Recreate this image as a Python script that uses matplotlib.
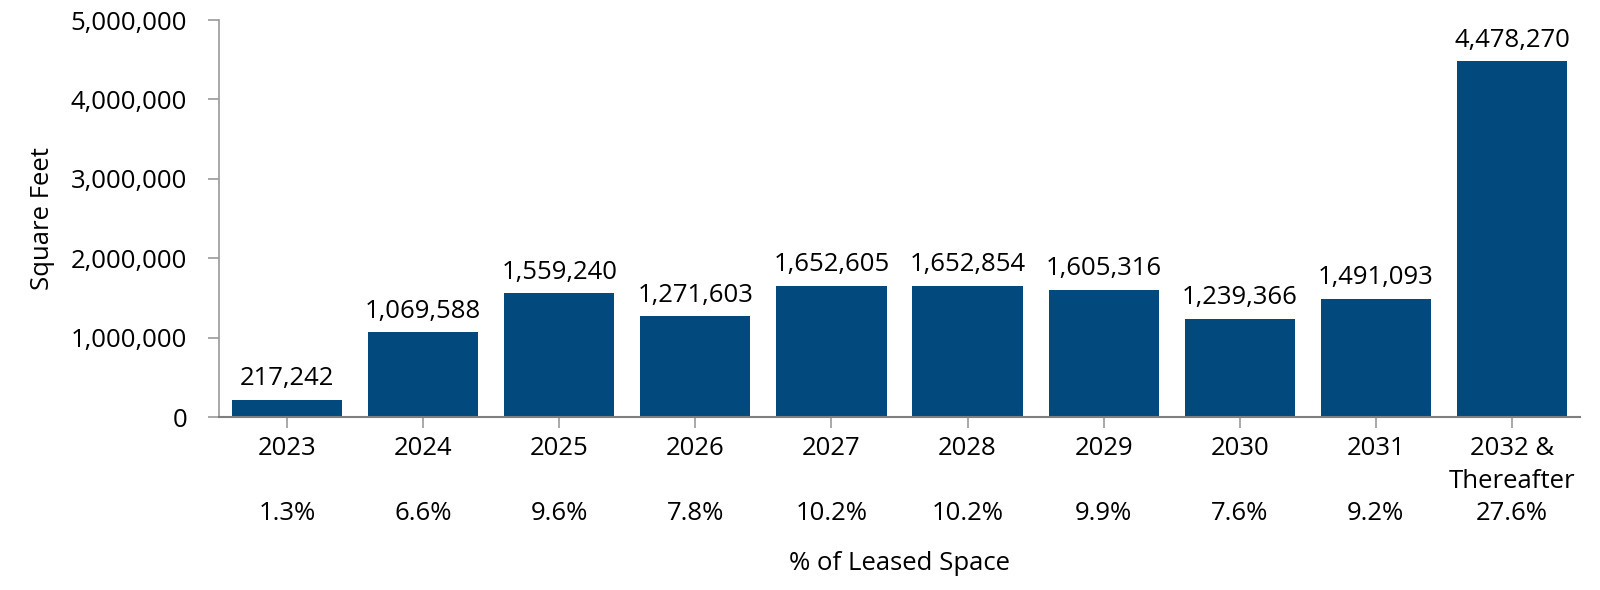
import matplotlib
matplotlib.use("Agg")
import matplotlib.pyplot as plt
from matplotlib.ticker import FuncFormatter

plt.rcParams["font.family"] = ["Open Sans", "DejaVu Sans"]

years = ["2023", "2024", "2025", "2026", "2027", "2028", "2029", "2030", "2031", "2032 &\nThereafter"]
square_feet = [217242, 1069588, 1559240, 1271603, 1652605, 1652854, 1605316, 1239366, 1491093, 4478270]
pct_leased = ["1.3%", "6.6%", "9.6%", "7.8%", "10.2%", "10.2%", "9.9%", "7.6%", "9.2%", "27.6%"]

bar_color = "#02497d"
axis_grey = "#9a9a9a"
FS = 18.5

fig = plt.figure(figsize=(16, 5.9), dpi=100)
ax = fig.add_axes([0.1369, 0.2932, 0.8506, 0.6729])

x = range(len(years))
bars = ax.bar(x, square_feet, width=0.81, color=bar_color)
ax.bar_label(bars, labels=[f"{v:,}" for v in square_feet], padding=6, fontsize=FS)

# year + percent stacked into the tick label
tick_labels = []
for y, p in zip(years, pct_leased):
    if "\n" in y:
        tick_labels.append(f"{y}\n{p}")
    else:
        tick_labels.append(f"{y}\n\n{p}")
ax.set_xticks(list(x), tick_labels, fontsize=FS, linespacing=1.38)
ax.set_xlim(-0.5, len(years) - 0.5)
ax.set_ylim(0, 5000000)
ax.set_yticks(range(0, 5000001, 1000000))
ax.yaxis.set_major_formatter(FuncFormatter(lambda v, _: f"{int(v):,}"))
ax.tick_params(axis="y", labelsize=FS, length=8, width=1.2, color=axis_grey, pad=15)
ax.tick_params(axis="x", length=8, width=1.2, color=axis_grey, pad=6)

for side in ["top", "right"]:
    ax.spines[side].set_visible(False)
ax.spines["left"].set_color(axis_grey)
ax.spines["left"].set_linewidth(1.2)
ax.spines["bottom"].set_color("#7f7f7f")
ax.spines["bottom"].set_linewidth(1.5)

ax.set_ylabel("Square Feet", fontsize=FS, labelpad=11)
ax.set_xlabel("% of Leased Space", fontsize=FS, labelpad=18)

fig.savefig("out.png", dpi=100)
